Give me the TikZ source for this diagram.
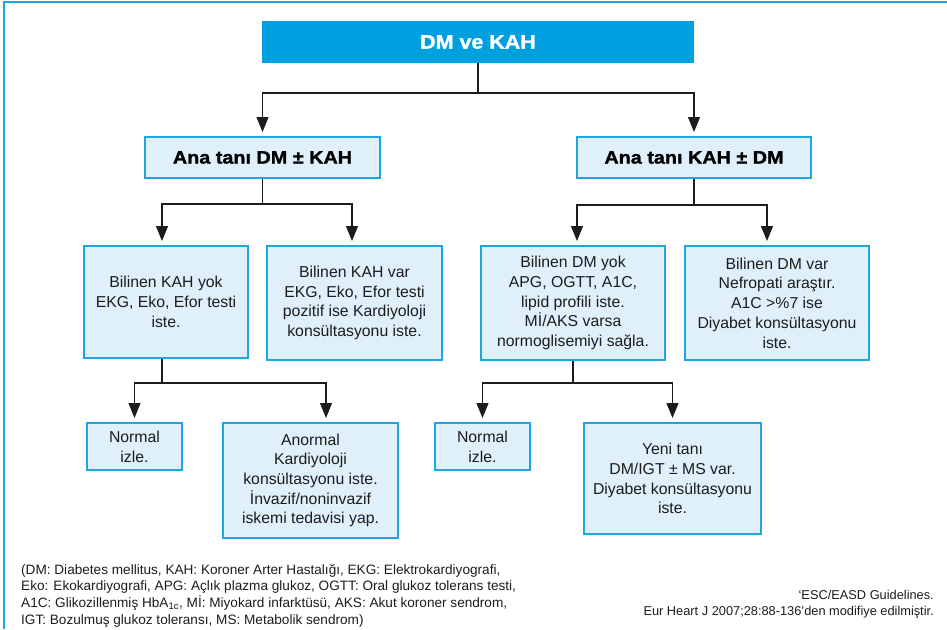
\documentclass[tikz,border=0pt]{standalone}
\usepackage{fontspec}
\setmainfont{Liberation Sans}
\newfontfamily\heavyfont[FakeStretch=1.1,FakeBold=1.4]{Liberation Sans}
\usetikzlibrary{arrows.meta}
\definecolor{titleblue}{RGB}{0,160,224}
\definecolor{edgeblue}{RGB}{30,165,226}
\definecolor{paleblue}{RGB}{223,240,251}
\definecolor{inkgrey}{RGB}{28,28,28}

\begin{document}
\begin{tikzpicture}[x=1pt,y=-1pt,
  box/.style={draw=edgeblue, fill=paleblue, line width=2pt, inner sep=0pt,
    align=center, text=inkgrey, font=\fontsize{15.8}{19.7}\selectfont},
  headbox/.style={box, font=\heavyfont\bfseries\fontsize{18}{20}\selectfont, text=black},
  titlebox/.style={box, fill=titleblue, draw=titleblue, text=white,
    font=\heavyfont\bfseries\fontsize{19.5}{22}\selectfont},
  link/.style={draw=inkgrey, line width=1.1pt},
  arrow/.style={link, -{Triangle[length=15pt,width=12pt]}, shorten >=4pt},
  note/.style={inner sep=0pt, text=inkgrey}]

\useasboundingbox (0,0) rectangle (947,629);

% open frame along the top and left edges
\draw[edgeblue, line width=2pt] (3.5,629) -- (3.5,2) -- (947,2);

% top level
\node[titlebox, minimum width=430pt, minimum height=40pt] (top) at (478,42) {DM ve KAH};

% main diagnosis boxes
\node[headbox, minimum width=235pt, minimum height=41pt] (dm1) at (262.5,157.5) {Ana tanı DM ± KAH};
\node[headbox, minimum width=234pt, minimum height=41pt] (kah1) at (694,157.5) {Ana tanı KAH ± DM};

% second level
\node[box, minimum width=164pt, minimum height=112pt] (b1) at (166,302)
  {Bilinen KAH yok\\EKG, Eko, Efor testi\\iste.};
\node[box, minimum width=175pt, minimum height=114pt] (b2) at (354.5,303)
  {Bilinen KAH var\\EKG, Eko, Efor testi\\pozitif ise Kardiyoloji\\konsültasyonu iste.};
\node[box, minimum width=184pt, minimum height=114pt] (b3) at (573,303)
  {Bilinen DM yok\\APG, OGTT, A1C,\\lipid profili iste.\\Mİ/AKS varsa\\normoglisemiyi sağla.};
\node[box, minimum width=184pt, minimum height=114pt] (b4) at (777,303)
  {Bilinen DM var\\Nefropati araştır.\\A1C >\%7 ise\\Diyabet konsültasyonu\\iste.};

% third level
\node[box, minimum width=95pt, minimum height=47pt] (c1) at (134.5,446.5) {Normal\\izle.};
\node[box, minimum width=175pt, minimum height=115pt] (c2) at (310.5,480.5)
  {Anormal\\Kardiyoloji\\konsültasyonu iste.\\İnvazif/noninvazif\\iskemi tedavisi yap.};
\node[box, minimum width=95pt, minimum height=47pt] (c3) at (482.5,446.5) {Normal\\izle.};
\node[box, minimum width=177pt, minimum height=111pt] (c4) at (672.5,478.5)
  {Yeni tanı\\DM/IGT ± MS var.\\Diyabet konsültasyonu\\iste.};

% connectors: top level
\path (top.south) ++(0,30) coordinate (j0);
\draw[link] (top.south) -- (j0);
\draw[arrow] (j0) -| (dm1.north);
\draw[arrow] (j0) -| (kah1.north);

% connectors: DM branch
\path (dm1.south) ++(0,25) coordinate (j1);
\draw[link] (dm1.south) -- (j1);
\draw[arrow] (j1) -| ([xshift=-4pt]b1.north);
\draw[arrow] (j1) -| ([xshift=-2.5pt]b2.north);

% connectors: KAH branch
\path (kah1.south) ++(0,26) coordinate (j2);
\draw[link] (kah1.south) -- (j2);
\draw[arrow] (j2) -| ([xshift=4pt]b3.north);
\draw[arrow] (j2) -| ([xshift=-10pt]b4.north);

% connectors: third level, left
\path ([xshift=-4pt]b1.south) coordinate (s1) ++(0,24) coordinate (j3);
\draw[link] (s1) -- (j3);
\draw[arrow] (j3) -| (c1.north);
\draw[arrow] (j3) -| ([xshift=15.5pt]c2.north);

% connectors: third level, right
\path (b3.south) ++(0,22) coordinate (j4);
\draw[link] (b3.south) -- (j4);
\draw[arrow] (j4) -| (c3.north);
\draw[arrow] (j4) -| (c4.north);

% abbreviations
\node[note, anchor=north west, align=left, font=\fontsize{13.6}{16.7}\selectfont] (legend) at (21,564)
  {(DM: Diabetes mellitus, KAH: Koroner Arter Hastalığı, EKG: Elektrokardiyografi,\\
   Eko: Ekokardiyografi, APG: Açlık plazma glukoz, OGTT: Oral glukoz tolerans testi,\\
   A1C: Glikozillenmiş HbA\textsubscript{1c}, Mİ: Miyokard infarktüsü, AKS: Akut koroner sendrom,\\
   IGT: Bozulmuş glukoz toleransı, MS: Metabolik sendrom)};

% source
\node[note, anchor=north east, align=right, font=\fontsize{12.8}{16}\selectfont] (source) at (934,590)
  {‘ESC/EASD Guidelines.\\Eur Heart J 2007;28:88-136’den modifiye edilmiştir.};

\end{tikzpicture}
\end{document}
